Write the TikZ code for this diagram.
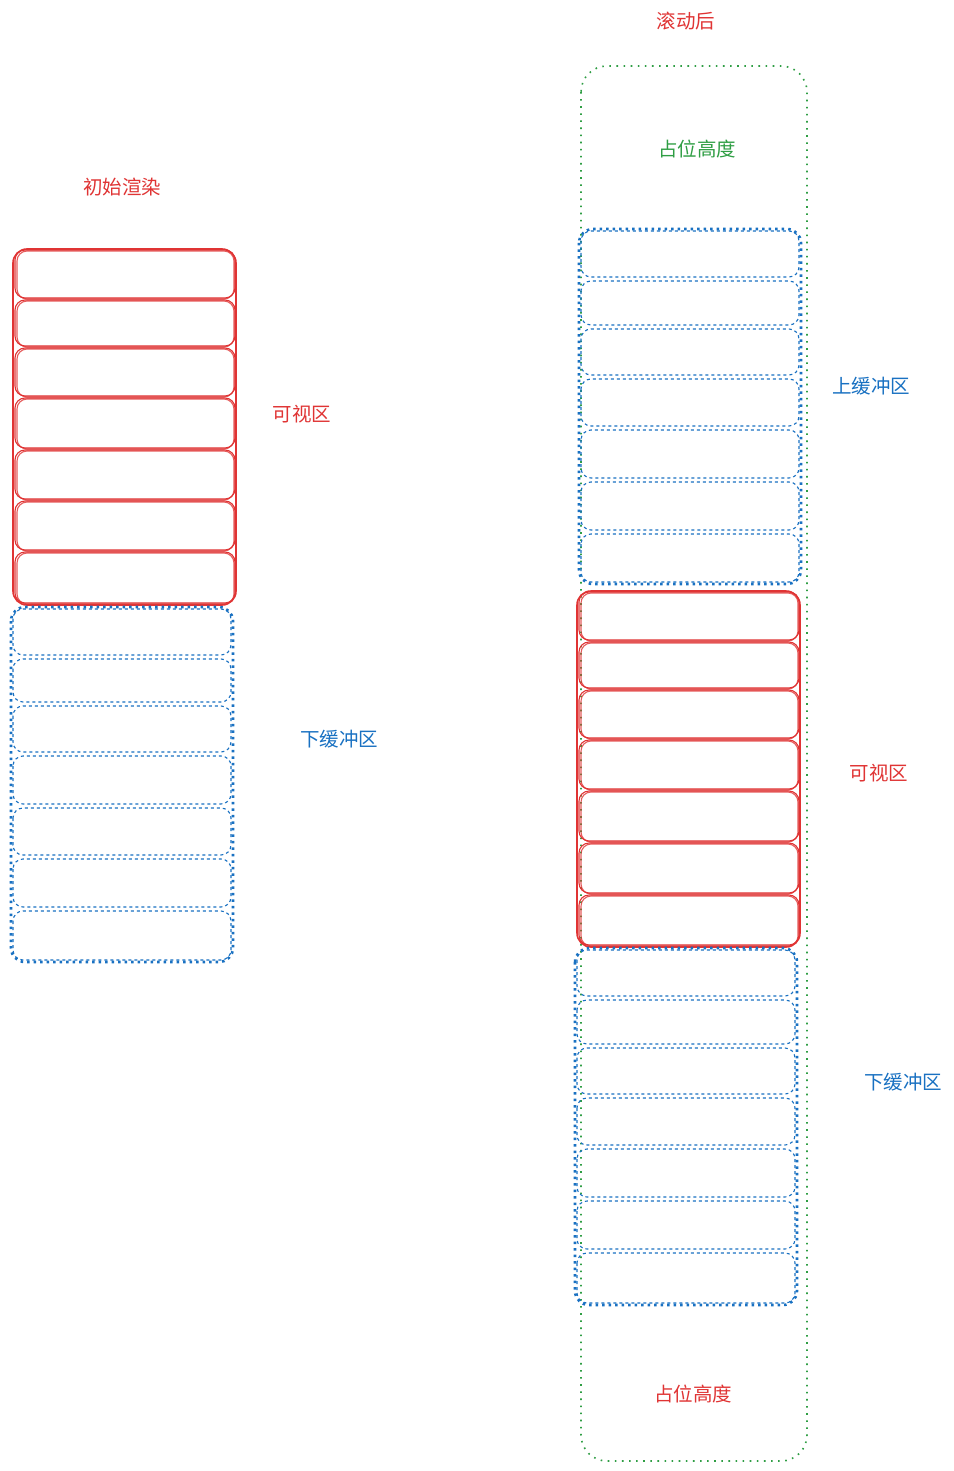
\documentclass[tikz,border=0pt]{standalone}
\usepackage{fontspec}
\newfontfamily\cjk{Noto Sans CJK SC}
\definecolor{sred}{RGB}{224,52,52}
\definecolor{sblue}{RGB}{25,113,194}
\definecolor{sgreen}{RGB}{47,158,68}
\newcommand\myredrows[3]{%
  \foreach \ya/\yb in {#3} {%
    \draw[redrow] (#1,\ya+1) rectangle (#2,\yb-1);
    \draw[redrow, opacity=.8] (#1+2,\ya+2) rectangle (#2-1,\yb);
  }}
\newcommand\mybluerows[3]{%
  \foreach \ya/\yb in {#3} {%
    \draw[bluerow] (#1,\ya+2) rectangle (#2,\yb-2);
  }}
\begin{document}
\begin{tikzpicture}[x=1pt,y=-1pt,
  lbl/.style={font=\cjk\fontsize{19.5}{22}\selectfont, inner sep=0pt},
  redouter/.style={draw=sred, line width=1.6pt, rounded corners=14pt},
  redrow/.style={draw=sred, line width=1.1pt, rounded corners=10pt},
  blueouter/.style={draw=sblue, line width=2.6pt, dash pattern=on 2.5pt off 4pt, rounded corners=14pt},
  bluerow/.style={draw=sblue, line width=1.1pt, dash pattern=on 3pt off 3pt, rounded corners=10pt},
  greenbox/.style={draw=sgreen, line width=1.6pt, dash pattern=on 1.6pt off 5.5pt, rounded corners=26pt}]
\useasboundingbox (0,0) rectangle (953,1471);
\fill[white] (0,0) rectangle (953,1471);

% ---------- left column ----------
\node[lbl, text=sred] (tinit) at (122,187) {初始渲染};
\myredrows{15}{235}{249/299,299/347,347/397,397/449,449/500,500/551,551/604}
\draw[redouter] (13,249) rectangle (236,605);
\node[lbl, text=sred] (tvisL) at (302,414) {可视区};

\mybluerows{13}{231}{607/657,657/704,704/754,754/806,806/857,857/909,909/962}
\draw[blueouter] (11,607) rectangle (233,962);
\node[lbl, text=sblue] (tlowL) at (339,739) {下缓冲区};

% ---------- right column ----------
\node[lbl, text=sred] (tscroll) at (686,21) {滚动后};
\draw[greenbox] (581,66) rectangle (807,1461);
\node[lbl, text=sgreen] (tphTop) at (697,149) {占位高度};

\mybluerows{581}{799}{229/279,279/327,327/377,377/428,428/480,480/532,532/584}
\draw[blueouter] (579,229) rectangle (801,584);
\node[lbl, text=sblue] (tup) at (871,386) {上缓冲区};

\myredrows{579}{799}{591/641,641/689,689/739,739/790,790/842,842/894,894/946}
\draw[redouter] (577,591) rectangle (800,947);
\node[lbl, text=sred] (tvisR) at (879,773) {可视区};

\mybluerows{577}{795}{948/998,998/1046,1046/1096,1096/1147,1147/1199,1199/1251,1251/1305}
\draw[blueouter] (575,948) rectangle (797,1305);
\node[lbl, text=sblue] (tlowR) at (903,1082) {下缓冲区};

\node[lbl, text=sred] (tphBot) at (693,1394) {占位高度};
\end{tikzpicture}
\end{document}
